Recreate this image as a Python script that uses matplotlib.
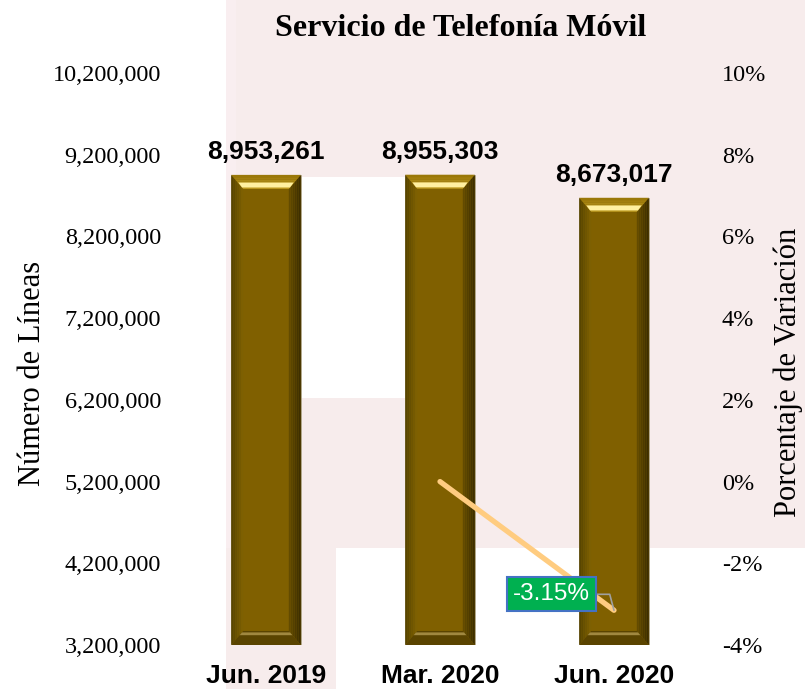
import matplotlib
matplotlib.use("Agg")
import matplotlib.pyplot as plt
from matplotlib.patches import Rectangle, Polygon
from matplotlib.ticker import FuncFormatter, MultipleLocator, FixedLocator
import numpy as np

# ---- data ----
categories = ["Jun. 2019", "Mar. 2020", "Jun. 2020"]
lines_count = [8953261, 8955303, 8673017]
variation = [np.nan, 0.0, -3.15]
variation_label = "-3.15%"

title = "Servicio de Telefonía Móvil"
ylabel_left = "Número de Líneas"
ylabel_right = "Porcentaje de Variación"

W, H = 805, 689
fig = plt.figure(figsize=(W / 100, H / 100), dpi=100)
fig.patch.set_facecolor("white")

PINK = "#F7ECEC"
def px_rect(x0, y0, x1, y1, color):
    # pixel coords, y from top
    fig.patches.append(Rectangle((x0 / W, 1 - y1 / H), (x1 - x0) / W, (y1 - y0) / H,
                                 transform=fig.transFigure, facecolor=color,
                                 edgecolor="none", zorder=-10))

px_rect(226, 0, 805, 548, PINK)
px_rect(301, 177, 405, 398, "white")
px_rect(226, 548, 336, 689, PINK)
px_rect(226, 0, 236, 548, "#F9EEF0")

ax_l, ax_b, ax_t, ax_r = 179, 645, 73, 701
ax = fig.add_axes([ax_l / W, 1 - ax_b / H, (ax_r - ax_l) / W, (ax_b - ax_t) / H])
ax.patch.set_alpha(0)
ymin, ymax = 3200000, 10200000
ax.set_ylim(ymin, ymax)
ax.set_xlim(-0.5, 2.5)
ax.yaxis.set_major_locator(FixedLocator(np.arange(ymin, ymax + 1, 1000000)))
ax.yaxis.set_major_formatter(FuncFormatter(lambda v, p: f"{v:,.0f}"))
for s in ax.spines.values():
    s.set_visible(False)
ax.tick_params(length=0)
ax.tick_params(axis="y", pad=13, labelsize=17.5)
ax.tick_params(axis="x", pad=14)
for lab in ax.get_yticklabels():
    lab.set_fontfamily("Liberation Serif")

x = np.arange(len(categories))
bw = 0.40
vals = np.array(lines_count, dtype=float)
ax.bar(x, vals - ymin, bottom=ymin, width=bw, color="#806000",
       edgecolor="#b0a890", linewidth=0.6, zorder=2)

# bevel decoration
ypp = (ymax - ymin) / (ax_b - ax_t)  # data units per pixel
xpp = 3.0 / (ax_r - ax_l)
bx = 12 * xpp
by = 14 * ypp
for xi, v in zip(x, vals):
    l, r = xi - bw / 2, xi + bw / 2
    t, b = v, ymin
    n = 6
    # left bevel (gradient strips)
    for k in range(n):
        f0, f1 = k / n, (k + 1) / n
        c = np.array([0x58, 0x45, 0x00]) * (1 - f0) + np.array([0x84, 0x65, 0x02]) * f0
        ax.add_patch(Polygon([(l + bx * f0, b + by * f0), (l + bx * f1, b + by * f1),
                              (l + bx * f1, t - by * f1), (l + bx * f0, t - by * f0)],
                             closed=True, facecolor=c / 255, edgecolor="none", zorder=3))
    # right bevel
    for k in range(n):
        f0, f1 = k / n, (k + 1) / n
        c = np.array([0x3e, 0x2f, 0x00]) * (1 - f0) + np.array([0x6a, 0x51, 0x00]) * f0
        ax.add_patch(Polygon([(r - bx * f0, b + by * f0), (r - bx * f1, b + by * f1),
                              (r - bx * f1, t - by * f1), (r - bx * f0, t - by * f0)],
                             closed=True, facecolor=c / 255, edgecolor="none", zorder=3))
    # top bevel (gradient)
    for k in range(n):
        f0, f1 = k / n, (k + 1) / n
        c = np.array([0x9a, 0x78, 0x08]) * (1 - f0) + np.array([0xc8, 0xa4, 0x28]) * f0
        ax.add_patch(Polygon([(l + bx * f0, t - by * f0), (r - bx * f0, t - by * f0),
                              (r - bx * f1, t - by * f1), (l + bx * f1, t - by * f1)],
                             closed=True, facecolor=c / 255, edgecolor="none", zorder=4))
    # highlight band
    ax.add_patch(Polygon([(l + bx * 0.6, t - by * 0.55), (r - bx * 0.6, t - by * 0.55),
                          (r - bx * 0.9, t - by * 0.9), (l + bx * 0.9, t - by * 0.9)],
                         closed=True, facecolor="#fff0a0", edgecolor="none", zorder=5))
    # bottom bevel
    ax.add_patch(Polygon([(l, b), (r, b), (r - bx, b + by), (l + bx, b + by)],
                         closed=True, facecolor="#5a4400", edgecolor="none", zorder=4))
    ax.add_patch(Polygon([(l + bx * 0.9, b + by * 0.9), (r - bx * 0.9, b + by * 0.9),
                          (r - bx * 0.7, b + by * 0.7), (l + bx * 0.7, b + by * 0.7)],
                         closed=True, facecolor="#a08840", edgecolor="none", zorder=5))
    ax.annotate(f"{int(v):,}", (xi, t), xytext=(0, 8), textcoords="offset points",
                ha="center", va="bottom", fontsize=19, fontweight="bold",
                fontfamily="Liberation Sans", zorder=6)

ax.set_xticks(x)
ax.set_xticklabels(categories, fontsize=19, fontweight="bold", fontfamily="Liberation Sans")

ax2 = ax.twinx()
ax2.set_ylim(-4, 10)
ax2.yaxis.set_major_locator(MultipleLocator(2))
ax2.yaxis.set_major_formatter(FuncFormatter(lambda v, p: f"{v:.0f}%"))
for s in ax2.spines.values():
    s.set_visible(False)
ax2.tick_params(length=0, pad=15, labelsize=17.5)
for lab in ax2.get_yticklabels():
    lab.set_fontfamily("Liberation Serif")
ax2.plot(x, variation, color="#FFCC80", linewidth=3.8, solid_capstyle="round", zorder=5)

ax2.annotate(variation_label, (x[2], variation[2]), xytext=(-45, 11.5),
             textcoords="offset points", ha="center", va="center",
             fontsize=17.5, color="white", fontfamily="Liberation Sans",
             bbox=dict(boxstyle="square,pad=0.25", facecolor="#00B050",
                       edgecolor="#4472C4", linewidth=1.5),
             arrowprops=dict(arrowstyle="-", color="#a0a0a0", linewidth=1.2,
                             shrinkA=0, shrinkB=0,
                             connectionstyle="angle,angleA=0,angleB=105,rad=0"),
             zorder=6)

fig.text(461 / W, 1 - 28 / H, title, ha="center", va="center", fontsize=23,
         fontweight="bold", fontfamily="Liberation Serif")
fig.text(32 / W, 1 - 373 / H, ylabel_left, ha="center", va="center", rotation=90,
         fontsize=22, fontfamily="Liberation Serif")
fig.text(788 / W, 1 - 372 / H, ylabel_right, ha="center", va="center", rotation=90,
         fontsize=22, fontfamily="Liberation Serif")

fig.savefig("out.png", dpi=100)
